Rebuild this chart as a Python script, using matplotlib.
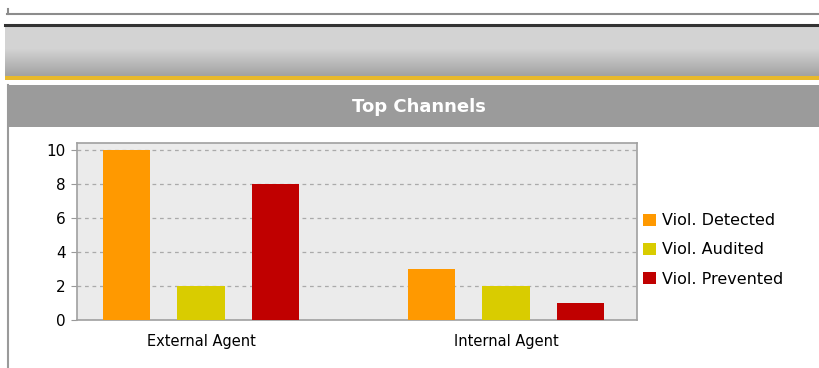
import numpy as np
import matplotlib.pyplot as plt
from matplotlib.patches import Rectangle, Patch
from matplotlib.lines import Line2D

categories = ["External Agent", "Internal Agent"]
series = ["Viol. Detected", "Viol. Audited", "Viol. Prevented"]
detected = [10, 3]
audited = [2, 2]
prevented = [8, 1]
colors = ["#ff9900", "#d9cc00", "#c00000"]

W, H = 819, 368
fig = plt.figure(figsize=(W / 100, H / 100), dpi=100)
fig.patch.set_facecolor("white")


def px_rect(x0, y0, x1, y1, **kw):
    # rectangle in pixel coords (y from top)
    fig.add_artist(Rectangle((x0 / W, 1 - y1 / H), (x1 - x0) / W, (y1 - y0) / H,
                             transform=fig.transFigure, linewidth=0, **kw))


def px_line(x0, y0, x1, y1, **kw):
    fig.add_artist(Line2D([x0 / W, x1 / W], [1 - y0 / H, 1 - y1 / H],
                          transform=fig.transFigure, **kw))


# page frame bits
px_line(7, 14, W, 14, color="#8c8c8c", lw=1.5)
px_line(8, 9, 8, 14, color="#8c8c8c", lw=1.5)
px_line(5, 24.5, W, 24.5, color="#333333", lw=2.2)

# gradient band
gax = fig.add_axes([5 / W, 1 - 76 / H, (W - 5) / W, 50 / H])
t = np.linspace(0, 1, 50)
shade = np.where(t < 0.45, 0.83, 0.83 - (t - 0.45) / 0.55 * 0.19)
gax.imshow(np.repeat(shade[:, None], 2, axis=1)[:, :, None].repeat(3, axis=2),
           aspect="auto", extent=[0, 1, 0, 1])
gax.axis("off")

px_rect(5, 76, W, 80, color="#e8b92c")
px_rect(8, 85, W, 127, color="#9b9b9b")
px_line(8, 85, 8, H, color="#9a9a9a", lw=1.5)
fig.text(419 / W, 1 - 107 / H, "Top Channels", color="white", fontsize=13,
         fontweight="bold", ha="center", va="center")

# chart
ax = fig.add_axes([77 / W, 1 - 320 / H, 560 / W, 177 / H])
ax.set_facecolor("#ebebeb")
x = np.arange(len(categories))
off = 0.245
bw = 0.155
for i, (vals, c, name) in enumerate(zip([detected, audited, prevented], colors, series)):
    ax.bar(x + (i - 1) * off, vals, bw, color=c, label=name, zorder=3)

ax.set_xlim(-0.407, 1.430)
ax.set_ylim(0, 10.4)
ax.set_yticks([0, 2, 4, 6, 8, 10])
ax.set_xticks(x)
ax.set_xticklabels(categories, fontsize=10.5, family="DejaVu Sans")
ax.tick_params(axis="x", length=0, pad=10)
ax.tick_params(axis="y", length=4, color="#999999", labelsize=11, pad=4)
ax.grid(axis="y", linestyle=(0, (3, 3)), color="#aaaaaa", lw=0.9, zorder=1)
for s in ax.spines.values():
    s.set_color("#a0a0a0")
    s.set_linewidth(1.2)

handles = [Patch(facecolor=c, edgecolor="none") for c in colors]
fig.legend(handles, series, loc="upper left", bbox_to_anchor=(637 / W, 1 - 207 / H),
           frameon=False, prop={"family": "DejaVu Sans", "size": 11.5},
           handlelength=0.8, handleheight=0.8, handletextpad=0.35, labelspacing=0.88,
           borderaxespad=0)

fig.savefig("out.png", dpi=100)
